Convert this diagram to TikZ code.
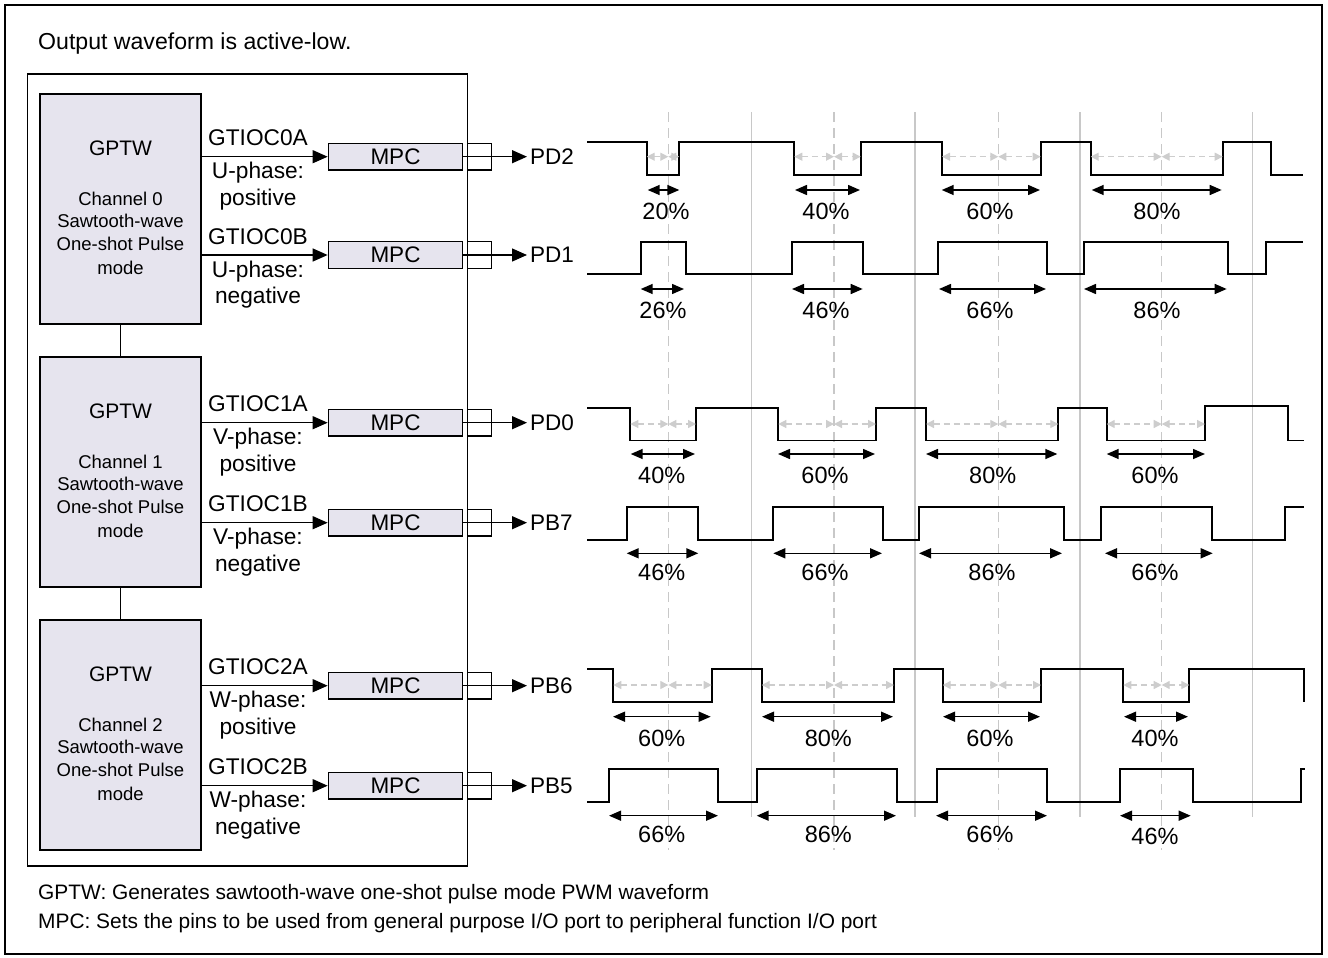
\documentclass[tikz,border=0pt]{standalone}
\usepackage{fontspec}
\setmainfont{Liberation Sans}
\usepackage{xcolor}
\usepackage{tikz}
\usetikzlibrary{arrows.meta, positioning, calc}

\definecolor{boxfill}{RGB}{230,228,238}
\definecolor{linegray}{RGB}{200,200,200}
\definecolor{halfgray}{RGB}{205,205,205}

\newcommand{\sigfont}{\fontsize{22.7}{26}\selectfont}
\newcommand{\titlefont}{\fontsize{23.1}{26}\selectfont}
\newcommand{\gptwfont}{\fontsize{21}{24}\selectfont}
\newcommand{\chanfont}{\fontsize{18.5}{22}\selectfont}
\newcommand{\mpcfont}{\fontsize{22.5}{24}\selectfont}
\newcommand{\portfont}{\fontsize{22.5}{24}\selectfont}
\newcommand{\pctfont}{\fontsize{23.5}{26}\selectfont}
\newcommand{\notefont}{\fontsize{20.9}{24}\selectfont}

\begin{document}
\begin{tikzpicture}[x=1pt, y=-1pt,
  gptwbox/.style={draw, line width=1.3pt, fill=boxfill, minimum width=161pt, minimum height=230pt, inner sep=0pt},
  boxtitle/.style={anchor=base, inner sep=0pt, font=\gptwfont},
  boxtext/.style={anchor=base, inner sep=0pt, font=\chanfont},
  mpcbox/.style={draw, line width=1.3pt, fill=boxfill, minimum width=134.4pt, minimum height=26.7pt, inner sep=0pt, font=\mpcfont},
  pinbox/.style={draw, line width=1.3pt, minimum width=24.4pt, minimum height=26.7pt, inner sep=0pt},
  portlbl/.style={anchor=west, inner sep=3pt, font=\portfont},
  siglbl/.style={anchor=base, inner sep=0pt, font=\sigfont},
  sigarrow/.style={-{Triangle[length=15pt,width=13pt]}, line width=1.3pt},
  waveline/.style={line width=1.8pt, line join=miter},
  pctarrow/.style={{Triangle[length=12pt,width=10pt]}-{Triangle[length=12pt,width=10pt]}, line width=1.5pt},
  pctlbl/.style={inner sep=0pt, font=\pctfont},
  halfarrow/.style={{Triangle[length=8pt,width=8pt]}-{Triangle[length=8pt,width=8pt]}, halfgray, line width=1.3pt, dash pattern=on 6pt off 4pt},
  tickline/.style={linegray, line width=1.3pt},
  midline/.style={linegray, line width=1.3pt, dash pattern=on 10pt off 6pt},
  notelbl/.style={anchor=base west, inner sep=0pt, font=\notefont}]

  \useasboundingbox (0,0) rectangle (1328,958);

  % Frame
  \draw[line width=2.6pt] (5,5) rectangle (1322,954);
  \node[anchor=base west, inner sep=0pt, font=\titlefont] (title) at (38,50) {Output waveform is active-low.};
  \draw[line width=1.4pt] (27.7,74) rectangle (467.3,866);

  % GPTW channels
  \foreach \ch/\cy in {0/209, 1/472, 2/735} {
    \node[gptwbox] (gptw\ch) at (120.5,\cy) {};
    \node[boxtitle] (gptwname\ch) at ($(gptw\ch.north)+(0,62)$) {GPTW};
    \node[boxtext] (chan\ch) at ($(gptw\ch.north)+(0,112.5)$) {Channel \ch};
    \node[boxtext] (saw\ch) at ($(gptw\ch.north)+(0,134.5)$) {Sawtooth-wave};
    \node[boxtext] (shot\ch) at ($(gptw\ch.north)+(0,157)$) {One-shot Pulse};
    \node[boxtext] (mode\ch) at ($(gptw\ch.north)+(0,181)$) {mode};
  }
  \draw[line width=1.3pt] (gptw0.south) -- (gptw1.north);
  \draw[line width=1.3pt] (gptw1.south) -- (gptw2.north);

  % Outputs through MPC to the port pins
  \foreach \id/\y/\ch/\io/\ph/\pol/\pd in {0a/156.7/0/GTIOC0A/U/positive/PD2, 0b/255/0/GTIOC0B/U/negative/PD1,
      1a/422.7/1/GTIOC1A/V/positive/PD0, 1b/522.7/1/GTIOC1B/V/negative/PB7,
      2a/685.7/2/GTIOC2A/W/positive/PB6, 2b/785.7/2/GTIOC2B/W/negative/PB5} {
    \node[mpcbox] (mpc\id) at (395.5,\y) {MPC};
    \node[pinbox] (pin\id) at (479.5,\y) {};
    \node[portlbl] (port\id) at (527,\y) {\pd};
    \draw[sigarrow] (gptw\ch.east |- mpc\id.west) -- (mpc\id.west);
    \draw[sigarrow] (mpc\id.east) -- (port\id.west);
    \node[siglbl] (io\id) at (258,{\y-11}) {\io};
    \node[siglbl] (ph\id) at (258,{\y+22}) {\ph-phase:};
    \node[siglbl] (pol\id) at (258,{\y+48.5}) {\pol};
  }

  % Timing guide lines
  \foreach \x in {751.7, 915, 1080, 1252.7}
    \draw[tickline] (\x,112) -- (\x,817);
  \foreach \x in {668.3, 834, 998.3, 1161.7}
    \draw[midline] (\x,112) -- (\x,850);

  % Waveforms
  \draw[waveline] (587,142.3) -| (646.7,175) -| (679.3,142.3) -| (794.3,175) -| (860.7,142.3) -| (942,175) -| (1040.7,142.3) -| (1090.7,175) -| (1222.7,142.3) -| (1271,175) -- (1303,175);
  \draw[waveline] (587,274.3) -| (640.7,242.3) -| (685.7,274.3) -| (792,242.3) -| (863,274.3) -| (938.3,242.3) -| (1047,274.3) -| (1084,242.3) -| (1228.3,274.3) -| (1266,242.3) -- (1303,242.3);
  \draw[waveline] (587,408.3) -| (630.3,440.5) -| (696,408.3) -| (778.3,440.5) -| (876,408.3) -| (926,440.5) -| (1058.3,408.3) -| (1106.7,440.5) -| (1205,406) -| (1287.7,440.5) -- (1304,440.5);
  \draw[waveline] (587,540) -| (626.7,506.7) -| (698.3,540) -| (773.3,506.7) -| (882.7,540) -| (919.3,506.7) -| (1064,540) -| (1100.7,506.7) -| (1211.7,540) -| (1285,506.7) -- (1304,506.7);
  \draw[waveline] (587,669.3) -| (613.3,702.3) -| (711.7,669.3) -| (761.7,702.3) -| (894,669.3) -| (942.7,702.3) -| (1041,669.3) -| (1123.3,702.3) -| (1189.3,669.3) -| (1304,702.3);
  \draw[waveline] (587,801.7) -| (609.3,769) -| (718.3,801.7) -| (756.7,769) -| (896.7,801.7) -| (936.7,769) -| (1046.7,801.7) -| (1120,769) -| (1192.7,801.7) -| (1301,769) -- (1305,769);

  % Half-period marks on the active-low outputs
  \foreach \y/\a/\c/\b in {156.7/646.7/668.3/679.3, 156.7/794.3/834/860.7, 156.7/942/998.3/1040.7, 156.7/1090.7/1161.7/1222.7,
      424/630.3/668.3/696, 424/778.3/834/876, 424/926/998.3/1058.3, 424/1106.7/1161.7/1205,
      685/613.3/668.3/711.7, 685/761.7/834/894, 685/942.7/998.3/1041, 685/1123.3/1161.7/1189.3} {
    \draw[halfarrow] (\a,\y) -- (\c,\y);
    \draw[halfarrow] (\c,\y) -- (\b,\y);
  }

  % Duty ratios
  \foreach \ay/\ly/\a/\b/\lx/\txt [count=\i] in {190/211.7/647.7/679.3/666/20, 190/211.7/795/860/826/40, 190/211.7/941.7/1040/990/60, 190/211.7/1091.7/1221.7/1157/80,
      289/310/640.7/684/663/26, 289/310/792/862.7/826/46, 289/310/939/1046/990/66, 289/310/1084/1226.7/1157/86,
      454/475/630.7/695/661.7/40, 454/475/778/875/825/60, 454/475/926/1057.3/992.7/80, 454/475/1106.7/1205/1155/60,
      553.3/572.7/626.7/698.3/661.7/46, 553.3/572.7/773.3/882/825/66, 553.3/572.7/919/1062/992/86, 553.3/572.7/1105/1212.7/1155/66,
      716.7/738.3/613/710.7/661.7/60, 716.7/738.3/762/893/828.3/80, 716.7/738.3/943/1040/990/60, 716.7/738.3/1124/1188/1155/40,
      815.7/834.3/609/718/661.7/66, 815.7/834.3/756.7/896/828.3/86, 815.7/834.3/936/1047/990/66, 815.7/836/1120/1190.7/1155/46} {
    \draw[pctarrow] (\a,\ay) -- (\b,\ay);
    \node[pctlbl] (duty\i) at (\lx,\ly) {\txt\%};
  }

  % Notes
  \node[notelbl] (notegptw) at (38,899.3) {GPTW: Generates sawtooth-wave one-shot pulse mode PWM waveform};
  \node[notelbl] (notempc) at (38,928.3) {MPC: Sets the pins to be used from general purpose I/O port to peripheral function I/O port};
\end{tikzpicture}
\end{document}
